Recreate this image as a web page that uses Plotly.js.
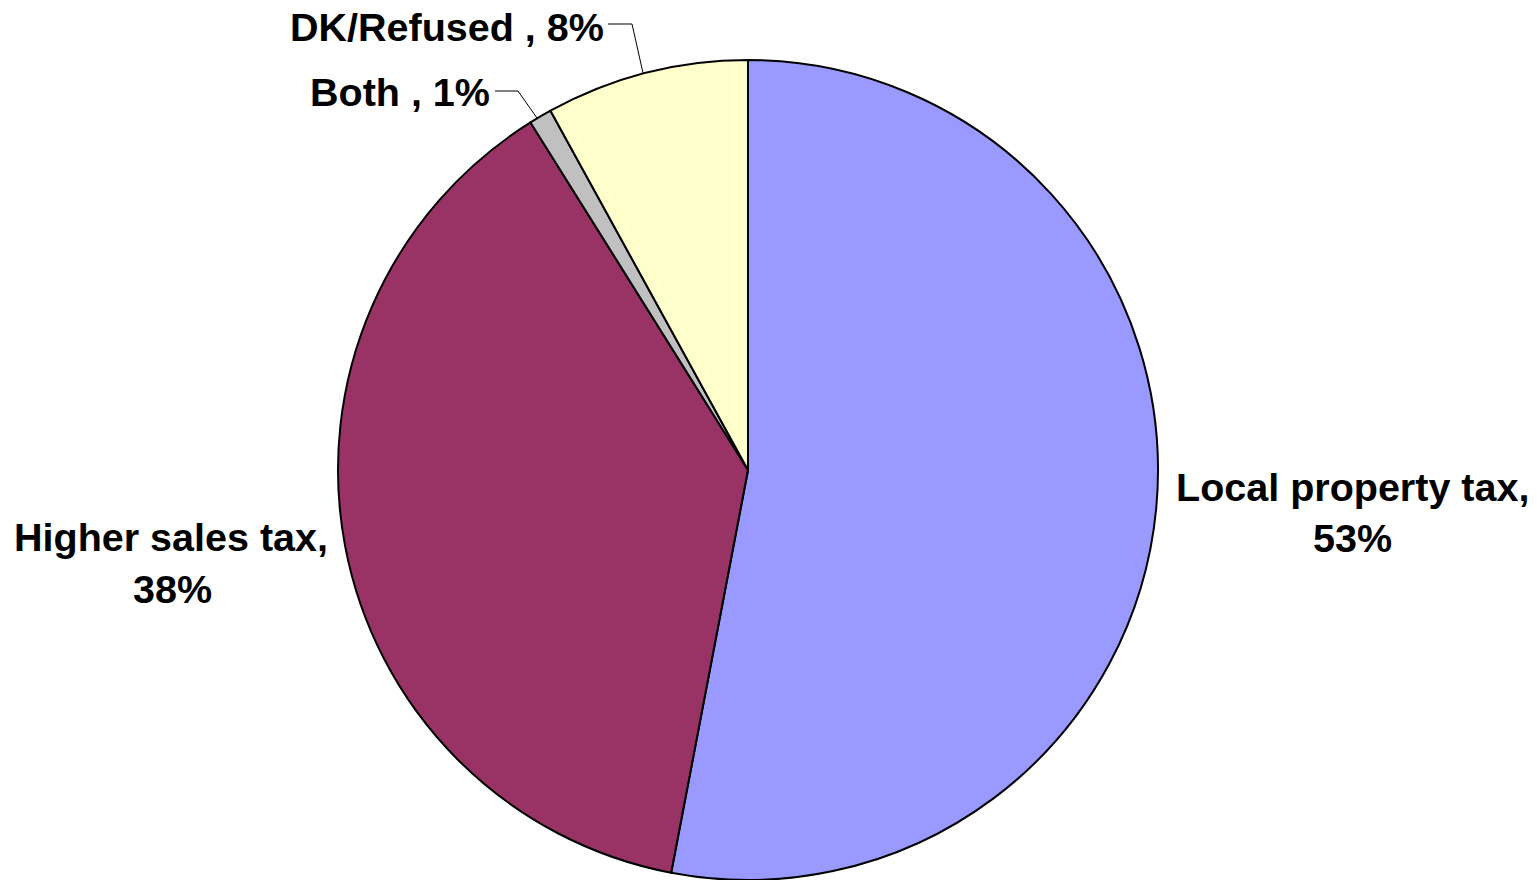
<!DOCTYPE html>
<html>
<head>
<meta charset="utf-8">
<script src="https://cdn.plot.ly/plotly-3.0.1.min.js"></script>
<style>html,body{margin:0;padding:0;background:#fff;}#chart{width:1537px;height:880px;}</style>
</head>
<body>
<div id="chart"></div>
<script>
const categories = ["Local property tax", "Higher sales tax", "Both", "DK/Refused"];
const values = [53, 38.1, 0.9, 8];
const shownPct = ["53%", "38%", "1%", "8%"];
const colors = ["#9999FF", "#993366", "#C0C0C0", "#FFFFCC"];

const W = 1537, H = 880;
const px = x => x / W;
const py = y => 1 - y / H;
const font = {family: "Liberation Sans, Arial, sans-serif", size: 39.5, color: "#000"};

const trace = {
  type: "pie",
  labels: categories,
  values: values,
  sort: false,
  direction: "clockwise",
  rotation: 0,
  textinfo: "none",
  hoverinfo: "label+percent",
  marker: {colors: colors, line: {color: "#000", width: 2}},
  domain: {x: [px(338), px(1158)], y: [py(880), py(60)]},
  showlegend: false
};

function ann(text, x, y, xanchor) {
  return {text: "<b>" + text + "</b>", x: px(x), y: py(y), xref: "paper", yref: "paper",
          xanchor: xanchor, yanchor: "middle", showarrow: false, font: font};
}

const annotations = [
  ann(categories[0] + ",", 1352, 487, "center"),
  ann(shownPct[0], 1352, 538, "center"),
  ann(categories[1] + ",", 171, 537, "center"),
  ann(shownPct[1], 172, 589, "center"),
  ann(categories[3] + " , " + shownPct[3], 606, 27, "right"),
  ann(categories[2] + " , " + shownPct[2], 492, 92, "right")
];

const lineStyle = {color: "#000", width: 1};
function seg(x0, y0, x1, y1) {
  return {type: "line", xref: "paper", yref: "paper", x0: px(x0), y0: py(y0), x1: px(x1), y1: py(y1), line: lineStyle};
}
const shapes = [
  seg(608, 24, 632, 24), seg(632, 24, 643, 73),
  seg(495, 91, 518, 91), seg(518, 91, 537, 118)
];

Plotly.newPlot("chart", [trace], {
  width: W, height: H,
  margin: {l: 0, r: 0, t: 0, b: 0},
  paper_bgcolor: "#fff",
  annotations: annotations,
  shapes: shapes
}, {displayModeBar: false, staticPlot: true});
</script>
</body>
</html>
